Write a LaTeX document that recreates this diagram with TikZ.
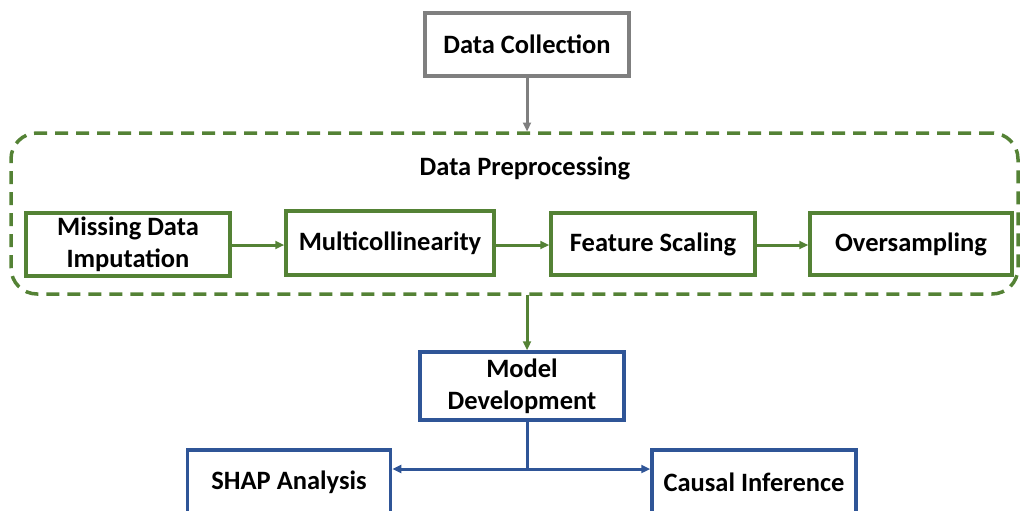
\documentclass[tikz,border=0pt]{standalone}
\usepackage{fontspec}
\setmainfont{Carlito}
\usetikzlibrary{arrows.meta}
\definecolor{cgreen}{HTML}{548235}
\definecolor{cblue}{HTML}{2F5597}
\definecolor{cgray}{HTML}{7F7F7F}
\tikzset{
  box/.style={draw, line width=3.5pt, fill=white, align=center, inner sep=0pt,
    font=\fontsize{26.5}{32}\selectfont\bfseries, text=black},
  graybox/.style={box, draw=cgray},
  greenbox/.style={box, draw=cgreen},
  bluebox/.style={box, draw=cblue},
  arr/.style={line width=3pt, -{Triangle[length=9pt,width=8pt]}},
  container/.style={draw=cgreen, line width=3.5pt, dash pattern=on 13pt off 8pt,
    rounded corners=26pt, inner sep=0pt},
}
\begin{document}
\begin{tikzpicture}[x=1pt,y=-1pt]
\useasboundingbox (0,0) rectangle (1021,511);
\clip (0,0) rectangle (1021,511);
\node[container, minimum width=1007pt, minimum height=161pt] (prep) at (514.5,213.5) {};
\node[font=\fontsize{26.5}{32}\selectfont\bfseries] (preplab) at (525,168) {Data Preprocessing};
\node[graybox, minimum width=204pt, minimum height=63pt] (dc) at (527,44.5) {Data Collection};
\node[greenbox, minimum width=204pt, minimum height=63pt] (mdi) at (128,244.5) {Missing Data\\Imputation};
\node[greenbox, minimum width=208pt, minimum height=64pt] (mc) at (390,243) {Multicollinearity};
\node[greenbox, minimum width=204pt, minimum height=62pt] (fs) at (653,244) {Feature Scaling};
\node[greenbox, minimum width=202pt, minimum height=62pt] (os) at (911,244) {Oversampling};
\node[bluebox, minimum width=204pt, minimum height=68pt] (md) at (522,386) {Model\\Development};
\node[bluebox, minimum width=203pt, minimum height=64pt] (shap) at (289,482) {SHAP Analysis};
\node[bluebox, minimum width=204pt, minimum height=64pt] (ci) at (754,482) {Causal Inference};
\draw[arr, cgray] (dc.south -| 527,0) -- (527,131.5);
\draw[arr, cgreen] (mdi.east |- 0,245) -- (mc.west |- 0,245);
\draw[arr, cgreen] (mc.east |- 0,245) -- (fs.west |- 0,245);
\draw[arr, cgreen] (fs.east |- 0,245) -- (os.west |- 0,245);
\draw[arr, cgreen] (527,294.5) -- (md.north -| 527,0);
\draw[line width=3pt, cblue] (md.south -| 527,0) -- (527,469) coordinate (br);
\draw[arr, cblue] (br) -- (br -| shap.east);
\draw[arr, cblue] (br) -- (br -| ci.west);
\end{tikzpicture}
\end{document}
